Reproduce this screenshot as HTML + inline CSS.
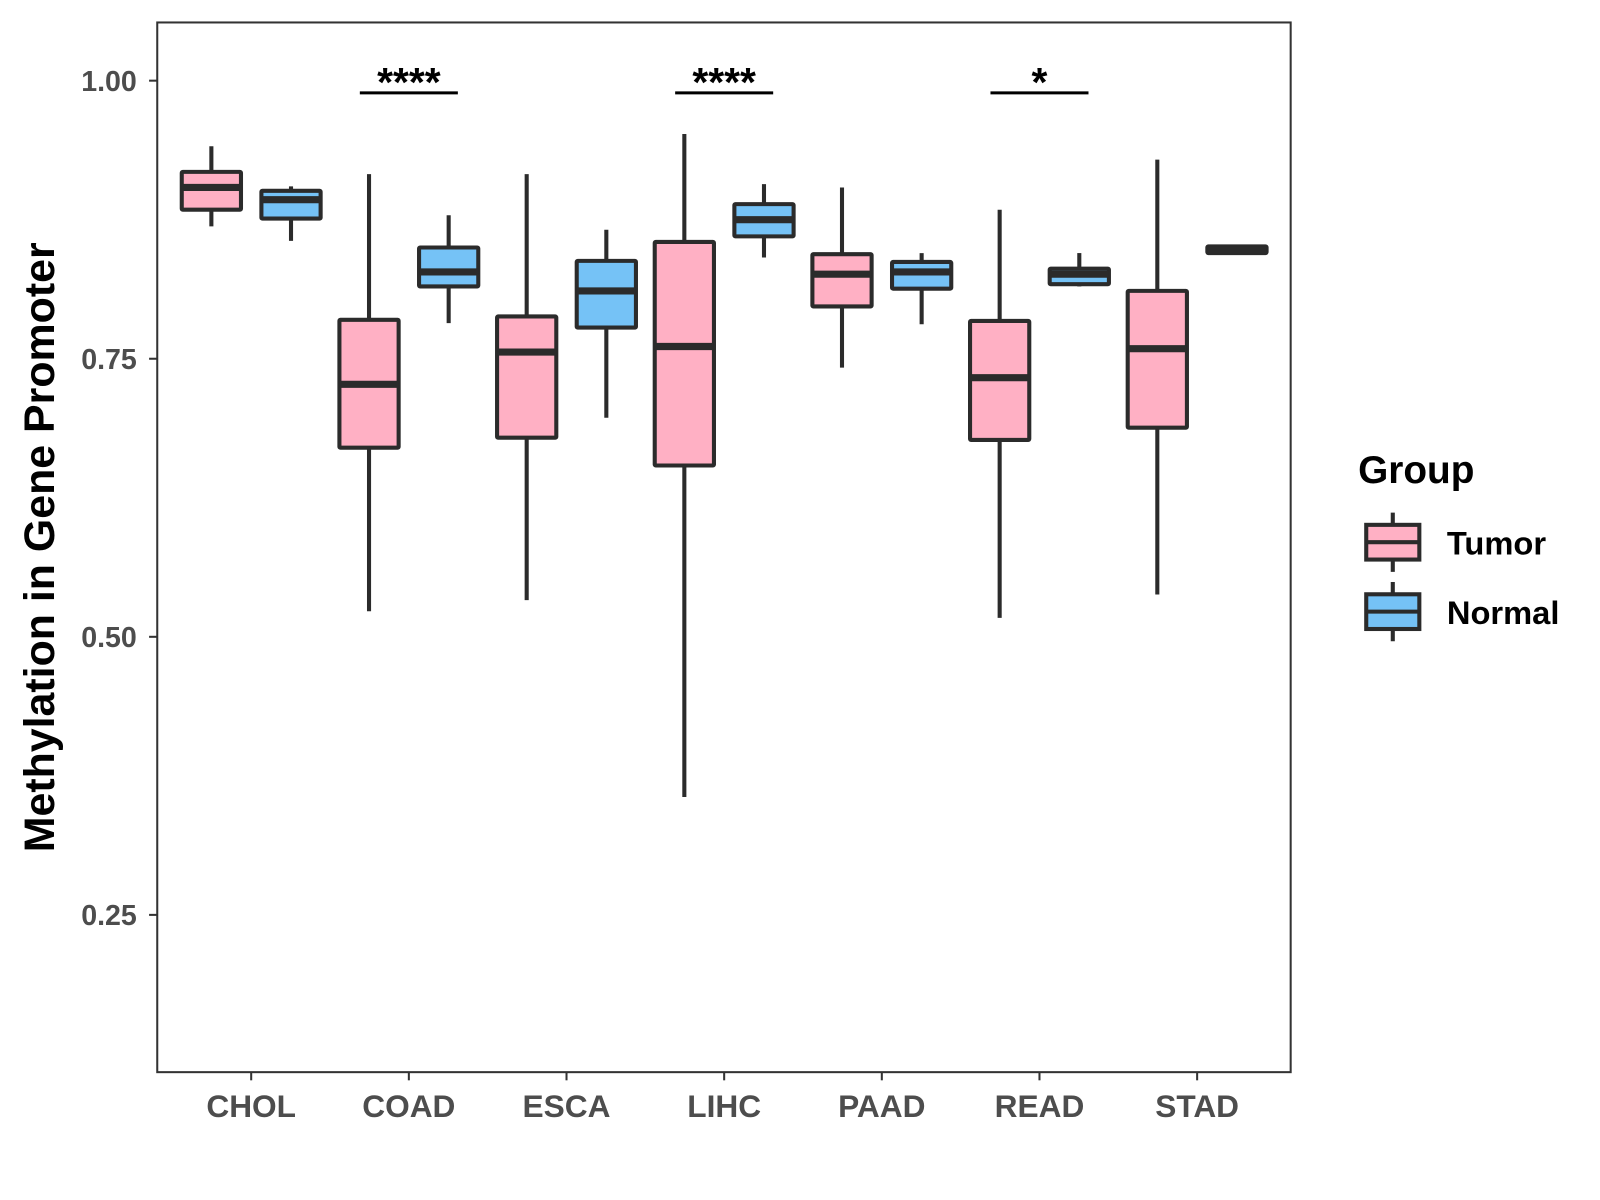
<!DOCTYPE html>
<html><head><meta charset="utf-8"><style>
html,body{margin:0;padding:0;background:#fff;width:1600px;height:1200px;overflow:hidden}
svg text{font-family:"Liberation Sans",Arial,sans-serif;font-weight:bold}
</style></head><body>
<svg id="chart" width="1600" height="1200" xmlns="http://www.w3.org/2000/svg">
<g transform="scale(1.0211)">
<rect x="154" y="22" width="1110" height="1028" fill="#fff" stroke="#333" stroke-width="2"/>
<g id="yaxis"></g>
<g id="xaxis"></g>
<g id="boxes"></g>
<g id="sig"></g>
<text x="53" y="536" font-size="42" fill="#000" text-anchor="middle" transform="rotate(-90 53 536)">Methylation in Gene Promoter</text>
<g>
<text x="1330" y="473" font-size="38" fill="#000">Group</text>
<g>
<line x1="1364" y1="502" x2="1364" y2="560" stroke="#2b2b2b" stroke-width="4"/>
<rect x="1338" y="514" width="52" height="34" fill="#FFB0C4" stroke="#2b2b2b" stroke-width="4"/>
<line x1="1338" y1="531" x2="1390" y2="531" stroke="#2b2b2b" stroke-width="4"/>
<text x="1417" y="543" font-size="32" fill="#000">Tumor</text></g>
<g>
<line x1="1364" y1="570" x2="1364" y2="628" stroke="#2b2b2b" stroke-width="4"/>
<rect x="1338" y="582" width="52" height="34" fill="#75C2F6" stroke="#2b2b2b" stroke-width="4"/>
<line x1="1338" y1="599" x2="1390" y2="599" stroke="#2b2b2b" stroke-width="4"/>
<text x="1417" y="611" font-size="32" fill="#000">Normal</text></g>
</g>
</g>
</svg>
<script>
const categories=["CHOL","COAD","ESCA","LIHC","PAAD","READ","STAD"];
// [low, q1, median, q3, high]
const tumorStats=[[0.869,0.884,0.904,0.918,0.941],[0.523,0.670,0.727,0.785,0.916],[0.533,0.679,0.756,0.788,0.916],[0.356,0.654,0.761,0.855,0.952],[0.742,0.797,0.826,0.844,0.904],[0.517,0.677,0.733,0.784,0.884],[0.538,0.688,0.759,0.811,0.929]];
const normalStats=[[0.856,0.876,0.893,0.901,0.905],[0.782,0.815,0.828,0.850,0.879],[0.697,0.778,0.811,0.838,0.866],[0.841,0.860,0.875,0.889,0.907],[0.781,0.813,0.828,0.837,0.845],[0.815,0.817,0.826,0.831,0.845],[0.845,0.845,0.848,0.851,0.851]];
const yTicks=[0.25,0.50,0.75,1.00];
const yTickLabels=["0.25","0.50","0.75","1.00"];
const sigCategories=["COAD","LIHC","READ"];
const sigLabels=["****","****","*"];
const sigLevel=0.989;

const NS="http://www.w3.org/2000/svg";
function y(v){return 79+(1-v)*1089.3;}
function x(i){return 246+i*154.4;}
function mk(tag,attrs,parent){const e=document.createElementNS(NS,tag);for(const k in attrs)e.setAttribute(k,attrs[k]);parent.appendChild(e);return e;}
const ya=document.getElementById('yaxis'),xa=document.getElementById('xaxis'),bx=document.getElementById('boxes'),sg=document.getElementById('sig');
yTicks.forEach((t,i)=>{
  const l=mk('line',{x1:146,x2:154,y1:y(t),y2:y(t),stroke:'#333','stroke-width':2},ya);
  
  
  const tx=mk('text',{x:134,y:y(t)+10,'font-size':28,fill:'#4d4d4d','text-anchor':'end'},ya);
  tx.textContent=yTickLabels[i];
  
  
});
categories.forEach((c,i)=>{
  const l=mk('line',{x1:x(i),x2:x(i),y1:1050,y2:1058,stroke:'#333','stroke-width':2},xa);
  
  
  const tx=mk('text',{x:x(i),y:1094,'font-size':31,fill:'#4d4d4d','text-anchor':'middle'},xa);
  tx.textContent=c;
  
  
});
function drawBox(s,cx,fill,name){
  const g=mk('g',{},bx);
  
  
  const w=58,st='#2b2b2b';
  mk('line',{x1:cx,x2:cx,y1:y(s[4]),y2:y(s[0]),stroke:st,'stroke-width':4},g);
  mk('rect',{x:cx-w/2,y:y(s[3]),width:w,height:Math.max(y(s[1])-y(s[3]),1),fill:fill,stroke:st,'stroke-width':4,rx:1},g);
  mk('line',{x1:cx-w/2,x2:cx+w/2,y1:y(s[2]),y2:y(s[2]),stroke:st,'stroke-width':7},g);
}
categories.forEach((c,i)=>{
  drawBox(tumorStats[i],x(i)-39,'#FFB0C4','box-'+c.toLowerCase()+'-tumor');
  drawBox(normalStats[i],x(i)+39,'#75C2F6','box-'+c.toLowerCase()+'-normal');
});
sigCategories.forEach((c,k)=>{
  const i=categories.indexOf(c);
  const l=mk('line',{x1:x(i)-48,x2:x(i)+48,y1:y(sigLevel),y2:y(sigLevel),stroke:'#000','stroke-width':3},sg);
  
  
  const t=mk('text',{x:x(i),y:y(sigLevel)+3,'font-size':40,fill:'#000','text-anchor':'middle'},sg);
  t.textContent=sigLabels[k];
  
  
});
</script>
</body></html>
